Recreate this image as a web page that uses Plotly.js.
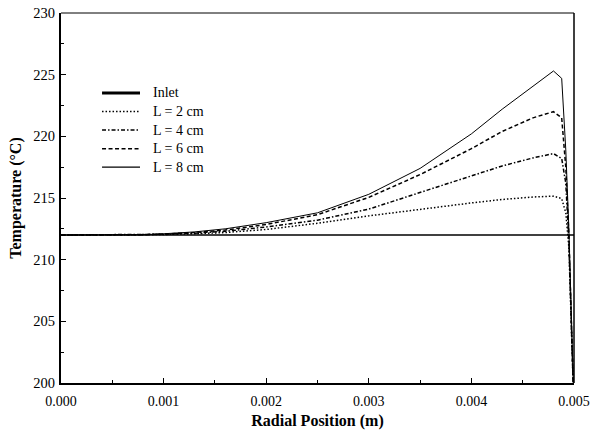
<!DOCTYPE html>
<html>
<head>
<meta charset="utf-8">
<script src="https://cdn.plot.ly/plotly-3.0.1.min.js"></script>
<style>html,body{margin:0;padding:0;background:#fff;}#chart{width:590px;height:433px;}</style>
</head>
<body>
<div id="chart"></div>
<script>
// Radial position (m)
const radial = [0, 0.0005, 0.0008, 0.001, 0.0013, 0.0016, 0.002, 0.0025, 0.003, 0.0035, 0.004, 0.0043, 0.0046, 0.0048, 0.00488, 0.00492, 0.00495, 0.00498, 0.005];
// Temperatures (°C)
const inletX = [0, 0.005];
const inletT = [212, 212];
const tempL2 = [212.0, 212.0, 212.01, 212.04, 212.1, 212.2, 212.45, 212.95, 213.55, 214.1, 214.6, 214.88, 215.08, 215.15, 214.95, 213.8, 211.0, 203.0, 198.0];
const tempL4 = [212.0, 212.0, 212.02, 212.06, 212.15, 212.3, 212.65, 213.2, 214.1, 215.45, 216.8, 217.6, 218.25, 218.6, 218.2, 216.2, 211.5, 203.0, 198.0];
const tempL6 = [212.0, 212.0, 212.02, 212.08, 212.2, 212.4, 212.85, 213.65, 215.05, 216.9, 219.0, 220.4, 221.5, 222.0, 221.5, 217.5, 212.0, 203.0, 198.0];
const tempL8 = [212.0, 212.0, 212.02, 212.1, 212.25, 212.5, 213.0, 213.8, 215.3, 217.4, 220.2, 222.2, 224.1, 225.3, 224.7, 218.9, 212.5, 203.0, 198.0];
const names = ['Inlet', 'L = 2 cm', 'L = 4 cm', 'L = 6 cm', 'L = 8 cm'];
const xTicks = [0, 0.001, 0.002, 0.003, 0.004, 0.005];
const xTickText = ['0.000', '0.001', '0.002', '0.003', '0.004', '0.005'];
const yTicks = [200, 205, 210, 215, 220, 225, 230];

const font = 'Liberation Serif, Times New Roman, serif';
const styles = [
  {color: '#000', width: 1.5},
  {color: '#000', width: 1.5, dash: '1.5px,2px'},
  {color: '#000', width: 1.5, dash: '4px,2px,1.5px,2px'},
  {color: '#000', width: 1.5, dash: '4px,2.5px'},
  {color: '#000', width: 1}
];
const series = [[inletX, inletT], [radial, tempL2], [radial, tempL4], [radial, tempL6], [radial, tempL8]];
const traces = series.map((s, i) => ({x: s[0], y: s[1], name: names[i], mode: 'lines', line: styles[i], showlegend: false}));

// manual legend (paper coordinates)
const legTop = 0.784, legStep = 0.0502, legX0 = 0.08, legX1 = 0.154, legTextX = 0.176;
const shapes = [
  {type: 'line', xref: 'paper', yref: 'paper', x0: 0, x1: 1, y0: 1, y1: 1, line: {color: '#000', width: 1}},
  {type: 'line', xref: 'paper', yref: 'paper', x0: 1, x1: 1, y0: 0, y1: 1, line: {color: '#000', width: 1.5}}
];
const annotations = [];
names.forEach((n, i) => {
  const yy = legTop - i * legStep;
  const st = Object.assign({}, styles[i]);
  if (i === 0) st.width = 3;
  if (i === 4) st.width = 1.3;
  shapes.push({type: 'line', xref: 'paper', yref: 'paper', x0: legX0, x1: legX1, y0: yy, y1: yy, line: st});
  annotations.push({xref: 'paper', yref: 'paper', x: legTextX, y: yy, text: n, showarrow: false, xanchor: 'left', yanchor: 'middle', font: {family: font, size: 14, color: '#000'}});
});

const layout = {
  width: 590, height: 433,
  margin: {l: 61, r: 16, t: 13, b: 50},
  paper_bgcolor: '#fff', plot_bgcolor: '#fff',
  font: {family: font, size: 14, color: '#000'},
  showlegend: false,
  xaxis: {
    range: [0, 0.005], tickvals: xTicks, ticktext: xTickText,
    ticks: 'inside', ticklen: 5, tickwidth: 1, tickcolor: '#000',
    minor: {dtick: 0.0005, ticks: 'inside', ticklen: 3, tickcolor: '#000', tickwidth: 1},
    showline: true, linewidth: 2, linecolor: '#000', showgrid: false, zeroline: false,
    tickfont: {family: font, size: 14}, ticklabelstandoff: 4,
    title: {text: '<b>Radial Position (m)</b>', font: {family: font, size: 16}, standoff: 7}
  },
  yaxis: {
    range: [200, 230], tickvals: yTicks,
    ticks: 'inside', ticklen: 5, tickwidth: 1, tickcolor: '#000',
    minor: {dtick: 2.5, ticks: 'inside', ticklen: 3, tickcolor: '#000', tickwidth: 1},
    showline: true, linewidth: 2, linecolor: '#000', showgrid: false, zeroline: false,
    tickfont: {family: font, size: 14.5}, ticklabelstandoff: 1,
    title: {text: '<b>Temperature (°C)</b>', font: {family: font, size: 16}, standoff: 8}
  },
  shapes: shapes,
  annotations: annotations
};

Plotly.newPlot('chart', traces, layout, {displayModeBar: false, staticPlot: true});
</script>
</body>
</html>
